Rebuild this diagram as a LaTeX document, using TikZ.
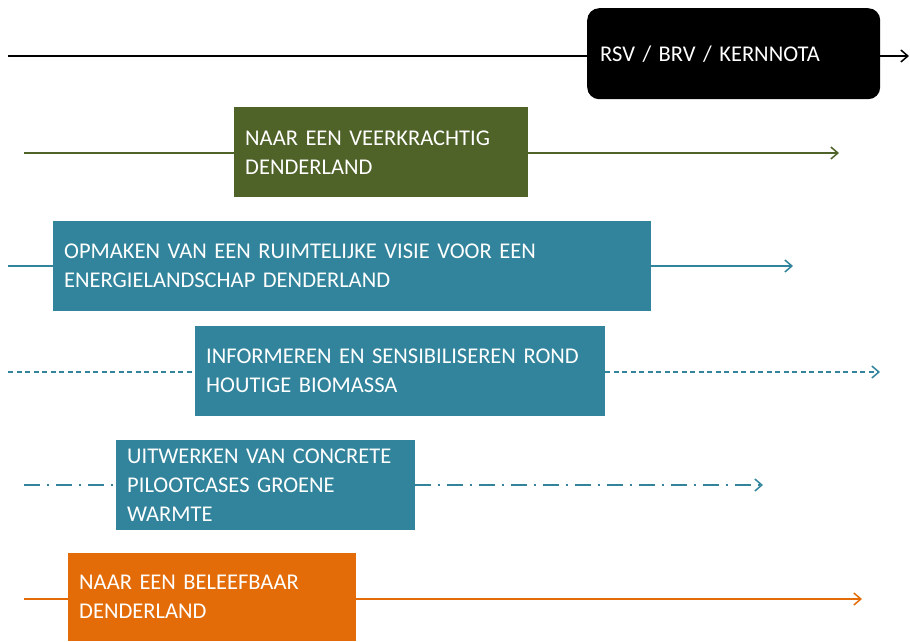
\documentclass[tikz,border=0pt]{standalone}
\usepackage{fontspec}
\setmainfont{Carlito}
\usetikzlibrary{arrows.meta}
\definecolor{groen}{HTML}{4F6228}
\definecolor{blauw}{HTML}{31849B}
\definecolor{oranje}{HTML}{E36C09}
\newcommand\blokletter{\fontsize{22.5}{29}\selectfont\fontdimen2\font=0.19em\relax}
\tikzset{
  blok/.style={fill=#1, text=white, anchor=north west, inner xsep=11pt, inner ysep=0pt,
    align=left, font=\blokletter},
  lijn/.style={draw=#1, line width=1.5pt},
  pijl/.style={lijn=#1, -{Straight Barb[length=7pt,width=12pt,line width=1.5pt]}},
}
\begin{document}
\begin{tikzpicture}[x=1pt,y=-1pt]
\useasboundingbox (0,0) rectangle (910,641);
% kaders
\node[blok=black, rounded corners=12pt, inner xsep=13pt, text width=267pt, minimum height=91pt] (rsv) at (587,8) {RSV / BRV / KERNNOTA};
\node[blok=groen, text width=272pt, minimum height=90pt] (veerkr) at (234,107) {NAAR EEN VEERKRACHTIG\\DENDERLAND};
\node[blok=blauw, text width=576pt, minimum height=90pt] (visie) at (53,221) {OPMAKEN VAN EEN RUIMTELIJKE VISIE VOOR EEN\\ENERGIELANDSCHAP DENDERLAND};
\node[blok=blauw, text width=388pt, minimum height=90pt] (biomassa) at (195,326) {INFORMEREN EN SENSIBILISEREN ROND\\HOUTIGE BIOMASSA};
\node[blok=blauw, text width=277pt, minimum height=90pt] (pilot) at (116,440) {UITWERKEN VAN CONCRETE\\PILOOTCASES GROENE\\WARMTE};
\node[blok=oranje, text width=266pt, minimum height=88pt] (beleef) at (68,553) {NAAR EEN BELEEFBAAR\\DENDERLAND};
% begin- en eindpunten
\coordinate (rsv-in) at (8,56);       \coordinate (rsv-uit) at (909,56);
\coordinate (veerkr-in) at (24,153);  \coordinate (veerkr-uit) at (839,153);
\coordinate (visie-in) at (8,266);    \coordinate (visie-uit) at (793,266);
\coordinate (bio-in) at (8,372);      \coordinate (bio-uit) at (880,372);
\coordinate (pilot-in) at (24,485);   \coordinate (pilot-uit) at (763,485);
\coordinate (beleef-in) at (24,599);  \coordinate (beleef-uit) at (862,599);
% lijnen
\draw[lijn=black] (rsv-in) -- (rsv-in -| rsv.west);
\draw[pijl=black] (rsv-uit -| rsv.east) -- (rsv-uit);
\draw[lijn=groen] (veerkr-in) -- (veerkr-in -| veerkr.west);
\draw[pijl=groen] (veerkr-uit -| veerkr.east) -- (veerkr-uit);
\draw[lijn=blauw] (visie-in) -- (visie-in -| visie.west);
\draw[pijl=blauw] (visie-uit -| visie.east) -- (visie-uit);
\draw[lijn=blauw, dash pattern=on 5pt off 3.5pt] (bio-in) -- (bio-in -| biomassa.west);
\draw[pijl=blauw, dash pattern=on 5pt off 3.5pt] (bio-uit -| biomassa.east) -- (bio-uit);
\draw[lijn=blauw, dash pattern=on 16pt off 7pt on 2pt off 7pt] (pilot-in) -- (pilot-in -| pilot.west);
\draw[pijl=blauw, dash pattern=on 16pt off 7pt on 2pt off 7pt] (pilot-uit -| pilot.east) -- (pilot-uit);
\draw[lijn=oranje] (beleef-in) -- (beleef-in -| beleef.west);
\draw[pijl=oranje] (beleef-uit -| beleef.east) -- (beleef-uit);
\end{tikzpicture}
\end{document}
